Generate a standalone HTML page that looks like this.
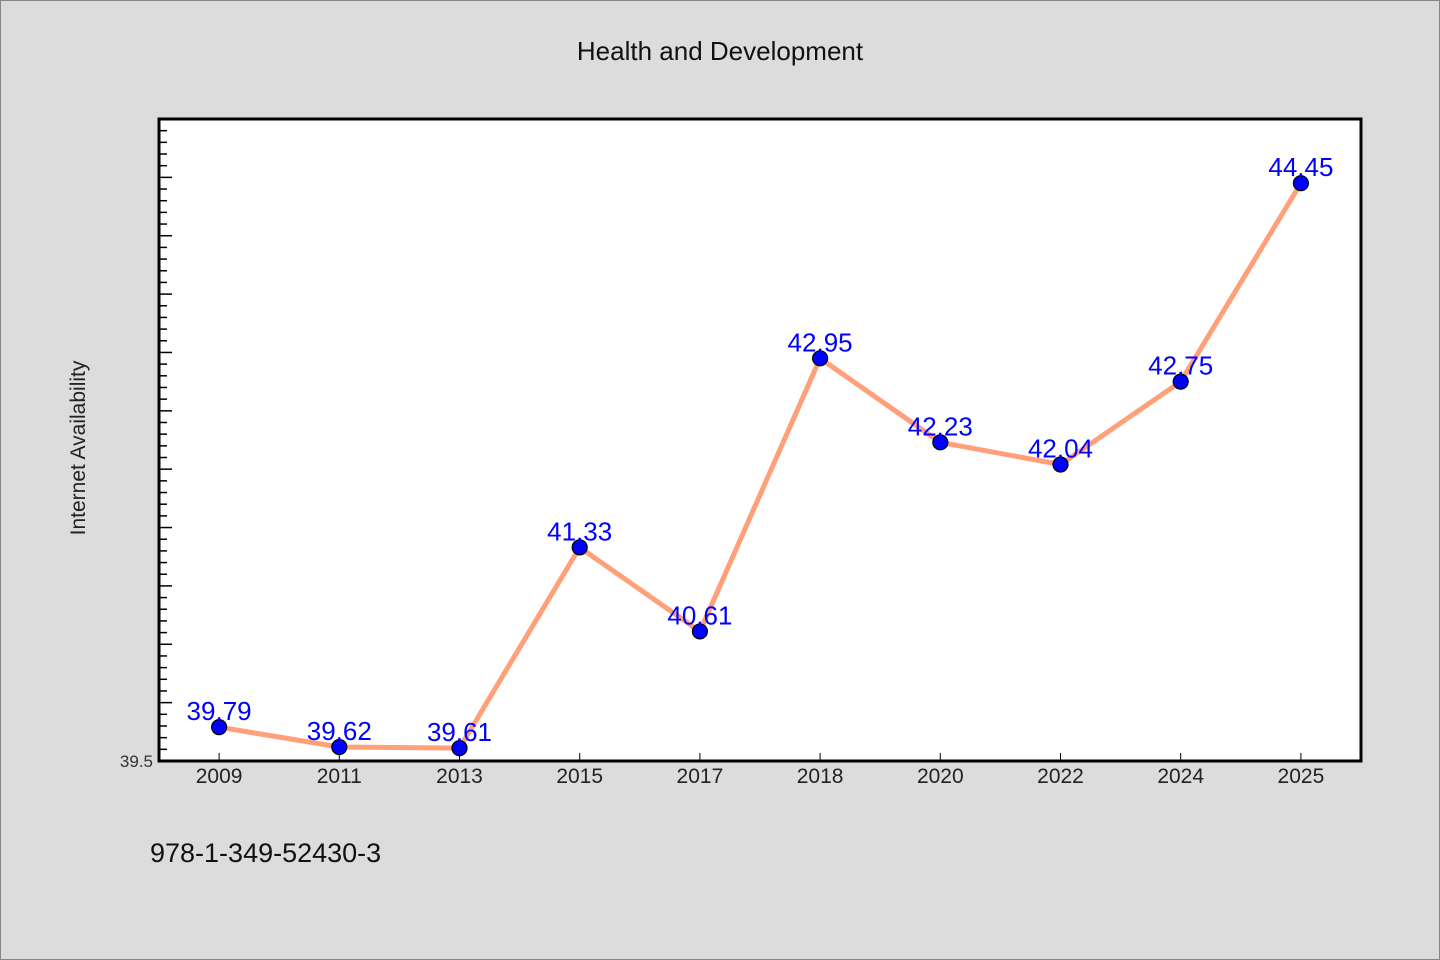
<!DOCTYPE html>
<html><head><meta charset="utf-8"><style>
body{margin:0;background:#dcdcdc;}
svg{display:block;font-family:"WenQuanYi Zen Hei","Liberation Sans",sans-serif;}
</style></head><body>
<svg width="1440" height="960">
<rect x="0.5" y="0.5" width="1439" height="959" fill="#dcdcdc" stroke="#888"/>
<text x="720" y="60" text-anchor="middle" font-size="26" fill="#111">Health and Development</text>
<rect x="159" y="119" width="1202" height="642" fill="#fff"/>
<g id="ticks"></g>
<g id="xlabels"></g>
<polyline id="line" fill="none" stroke="#ffa07a" stroke-width="5" stroke-linejoin="round"/>
<g id="pts"></g>
<rect x="159" y="119" width="1202" height="642" fill="none" stroke="#000" stroke-width="3"/>
<text x="153" y="767" text-anchor="end" font-size="17" fill="#333">39.5</text>
<text x="85" y="448" text-anchor="middle" font-size="21" fill="#222" transform="rotate(-90 85 448)">Internet Availability</text>
<text x="150" y="862" font-size="27" fill="#111">978-1-349-52430-3</text>
</svg>
<script>
const categories=["2009","2011","2013","2015","2017","2018","2020","2022","2024","2025"];
const values=[39.79,39.62,39.61,41.33,40.61,42.95,42.23,42.04,42.75,44.45];
const yMin=39.5,yMax=45.0;
const L=159,R=1361,T=119,B=761;
const ns="http://www.w3.org/2000/svg";
const band=(R-L)/categories.length;
const xs=i=>L+band*(i+0.5);
const ys=v=>B-(v-yMin)/(yMax-yMin)*(B-T);
function mk(tag,attrs,parent){const e=document.createElementNS(ns,tag);for(const k in attrs)e.setAttribute(k,attrs[k]);parent.appendChild(e);return e;}
const tg=document.getElementById('ticks');
for(let k=1;k<=55;k++){
  const v=yMin+k*0.1;if(v>yMax+1e-9)break;
  const major=k%5===0;const y=ys(v);
  const t=mk('line',{x1:L,x2:L+(major?13:8),y1:y,y2:y,stroke:'#000','stroke-width':1.5},tg);
  
  
}
const xl=document.getElementById('xlabels');
categories.forEach((c,i)=>{
  const t=mk('line',{x1:xs(i),x2:xs(i),y1:B-8,y2:B,stroke:'#000','stroke-width':1},xl);
  
  
  const tx=mk('text',{x:xs(i),y:B+22,'text-anchor':'middle','font-size':21,fill:'#222'},xl);
  tx.textContent=c;
  
  
});
document.getElementById('line').setAttribute('points',values.map((v,i)=>xs(i)+','+ys(v)).join(' '));
const pg=document.getElementById('pts');
values.forEach((v,i)=>{
  const c=mk('circle',{cx:xs(i),cy:ys(v),r:7.5,fill:'#0000ff',stroke:'#000','stroke-width':1.2},pg);
  
  
  const t=mk('text',{x:xs(i),y:ys(v)-7,'text-anchor':'middle','font-size':26,fill:'#0000ff'},pg);
  t.textContent=v.toFixed(2);
  
  
});
</script>
</body></html>
